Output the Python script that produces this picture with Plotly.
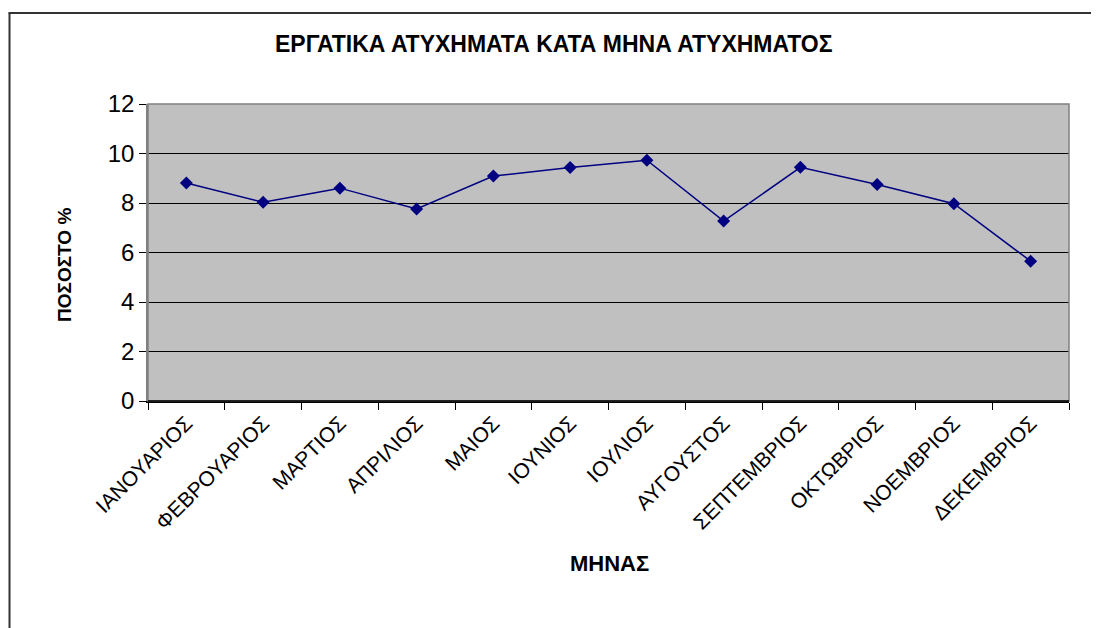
import plotly.graph_objects as go

months = ["ΙΑΝΟΥΑΡΙΟΣ", "ΦΕΒΡΟΥΑΡΙΟΣ", "ΜΑΡΤΙΟΣ", "ΑΠΡΙΛΙΟΣ", "ΜΑΙΟΣ", "ΙΟΥΝΙΟΣ",
          "ΙΟΥΛΙΟΣ", "ΑΥΓΟΥΣΤΟΣ", "ΣΕΠΤΕΜΒΡΙΟΣ", "ΟΚΤΩΒΡΙΟΣ", "ΝΟΕΜΒΡΙΟΣ", "ΔΕΚΕΜΒΡΙΟΣ"]
percent = [8.81, 8.03, 8.6, 7.76, 9.09, 9.43, 9.73, 7.27, 9.44, 8.75, 7.97, 5.65]
y_ticks = [0, 2, 4, 6, 8, 10, 12]

# page is offset by the 8px body margin
OFF = 8
W, H = 1099 - OFF, 628 - OFF
# target plot area on the page: x 148..1069, y 104..401
L = 148 - OFF
T = 104 - OFF
R = 1099 - 1069
B = 628 - 401
pw = W - L - R
ph = H - T - B

def px_x(p):  # page pixel -> paper x
    return (p - OFF - L) / pw

def px_y(p):  # page pixel -> paper y
    return (H - B - (p - OFF)) / ph

fig = go.Figure()
fig.add_trace(go.Scatter(
    x=months, y=percent, mode="lines+markers",
    line=dict(color="#000080", width=1.5),
    marker=dict(symbol="diamond", size=10, color="#000080"),
    showlegend=False,
))

font = "Liberation Sans, Arial, sans-serif"
fig.update_layout(
    width=W, height=H,
    margin=dict(l=L, r=R, t=T, b=B, autoexpand=False),
    paper_bgcolor="white",
    plot_bgcolor="#C0C0C0",
    font=dict(family=font, color="black"),
    xaxis=dict(
        type="category", tickson="boundaries", ticks="outside", ticklen=7,
        tickcolor="black", tickangle=-45, tickfont=dict(size=21),
        showgrid=False, showline=True, linecolor="black", linewidth=1.5,
        mirror=False, range=[-0.5, 11.5],
    ),
    yaxis=dict(
        range=[0, 12], tickvals=y_ticks, ticks="outside", ticklen=7,
        tickcolor="black", tickfont=dict(size=24),
        showgrid=True, gridcolor="black", gridwidth=1,
        showline=True, linecolor="#808080", linewidth=1.5,
        zeroline=False,
    ),
    annotations=[
        dict(text="<b>ΕΡΓΑΤΙΚΑ ΑΤΥΧΗΜΑΤΑ ΚΑΤΑ ΜΗΝΑ ΑΤΥΧΗΜΑΤΟΣ</b>",
             xref="paper", yref="paper", x=px_x(554), y=px_y(44),
             xanchor="center", yanchor="middle", showarrow=False,
             font=dict(size=23, family=font, color="black")),
        dict(text="<b>ΜΗΝΑΣ</b>",
             xref="paper", yref="paper", x=px_x(609), y=px_y(563),
             xanchor="center", yanchor="middle", showarrow=False,
             font=dict(size=22, family=font, color="black")),
        dict(text="<b>ΠΟΣΟΣΤΟ %</b>", textangle=-90,
             xref="paper", yref="paper", x=px_x(64), y=px_y(265),
             xanchor="center", yanchor="middle", showarrow=False,
             font=dict(size=19, family=font, color="black")),
    ],
)

# plot area border in gray
fig.add_shape(type="rect", xref="paper", yref="paper", x0=0, x1=1, y0=0, y1=1,
              line=dict(color="#808080", width=1.5), layer="above")
# bottom axis line black
fig.add_shape(type="line", xref="paper", yref="paper", x0=0, x1=1, y0=0, y1=0,
              line=dict(color="black", width=1.5), layer="above")

# outer chart border (left and top visible)
fig.add_shape(type="line", xref="paper", yref="paper",
              x0=px_x(9.5), x1=px_x(9.5), y0=px_y(13), y1=px_y(640),
              line=dict(color="#333333", width=2))
fig.add_shape(type="line", xref="paper", yref="paper",
              x0=px_x(8.5), x1=px_x(1110), y0=px_y(13), y1=px_y(13),
              line=dict(color="#333333", width=2))

fig.write_html("out.html")
